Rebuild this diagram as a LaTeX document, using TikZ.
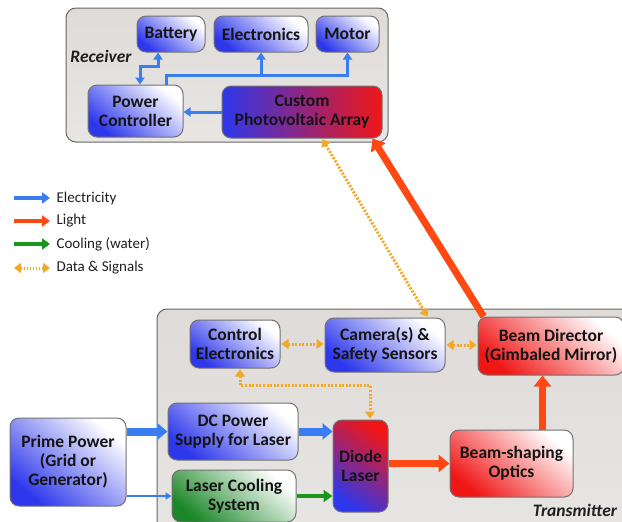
\documentclass[tikz,border=0pt]{standalone}
\usepackage{fontspec}
\setmainfont{Carlito}
\usetikzlibrary{arrows.meta}

\definecolor{elec}{RGB}{58,125,240}
\definecolor{lightc}{RGB}{255,72,18}
\definecolor{coolc}{RGB}{25,150,30}
\definecolor{datac}{RGB}{244,168,38}
\definecolor{nblue}{RGB}{45,55,235}
\definecolor{nred}{RGB}{240,22,22}
\definecolor{ngreen}{RGB}{28,135,40}
\definecolor{panel}{RGB}{222,219,216}

\tikzset{
  blk/.style={draw=black!55, line width=1pt, rounded corners=9pt, align=center,
    font=\fontsize{17.5}{19}\selectfont\bfseries, text=black!92, inner sep=0pt},
  bluebox/.style={blk, top color=white, bottom color=nblue, shading angle=-40},
  redbox/.style={blk, top color=white, bottom color=nred, shading angle=-40},
  greenbox/.style={blk, top color=white, bottom color=ngreen, shading angle=-40},
  panelbox/.style={draw=black!60, line width=1pt, rounded corners=10pt,
    top color=panel, bottom color=panel!70!white},
  tag/.style={font=\fontsize{17.5}{19}\selectfont\bfseries\itshape, text=black!88},
  legtext/.style={font=\fontsize{15}{17}\selectfont, anchor=west, text=black!88},
  esmall/.style={elec, line width=3pt, -{Triangle[width=9pt,length=7pt]}},
  esmallboth/.style={elec, line width=3pt, {Triangle[width=9pt,length=7pt]}-{Triangle[width=9pt,length=7pt]}},
  ebig/.style={elec, line width=8pt, -{Triangle[width=16pt,length=10pt]}},
  ethin/.style={elec, line width=2pt, -{Triangle[width=7pt,length=6pt]}},
  lbig/.style={lightc, line width=7pt, -{Triangle[width=17pt,length=11pt]}},
  cbig/.style={coolc, line width=4.5pt, -{Triangle[width=12pt,length=9pt]}},
  data/.style={datac, line width=3pt, dash pattern=on 2pt off 1.6pt,
    {Triangle[width=10pt,length=7pt]}-{Triangle[width=10pt,length=7pt]}, shorten <=1pt, shorten >=1pt},
}

\begin{document}
\begin{tikzpicture}[x=1pt,y=-1pt]
\useasboundingbox (0,0) rectangle (622,522);
\clip (0,0) rectangle (622,522);

% panels
\draw[panelbox] (66,8) rectangle (388,142);
\draw[panelbox] (157,309) rectangle (650,545);
\node[tag] (rx) at (101,56) {Receiver};
\node[tag] (tx) at (575,510) {Transmitter};

% receiver blocks
\node[bluebox, minimum width=68pt, minimum height=36pt] (bat) at (171,34) {Battery};
\node[bluebox, minimum width=94pt, minimum height=36pt] (ele) at (261,34) {Electronics};
\node[bluebox, minimum width=63pt, minimum height=36pt] (mot) at (347.5,34) {Motor};
\node[bluebox, minimum width=95pt, minimum height=52pt] (pc) at (135.5,111) {Power\\Controller};
\node[blk, left color=nblue, right color=nred, minimum width=160pt, minimum height=52pt] (pv) at (302,112) {Custom\\Photovoltaic Array};

% transmitter blocks
\node[bluebox, minimum width=90pt, minimum height=48pt] (ce) at (235,344) {Control\\Electronics};
\node[bluebox, minimum width=120pt, minimum height=54pt] (cam) at (385,345) {Camera(s) \&\\Safety Sensors};
\node[redbox, minimum width=146pt, minimum height=58pt] (bd) at (551,346) {Beam Director\\(Gimbaled Mirror)};
\node[bluebox, minimum width=130pt, minimum height=57pt] (dc) at (233,431.5) {DC Power\\Supply for Laser};
\node[greenbox, minimum width=124pt, minimum height=52pt] (cool) at (234,496) {Laser Cooling\\System};
\node[blk, top color=nred, bottom color=nblue, shading angle=-35, minimum width=55pt, minimum height=92pt] (dl) at (360.5,466) {Diode\\Laser};
\node[redbox, minimum width=123pt, minimum height=67pt] (bs) at (511.5,463.5) {Beam-shaping\\Optics};
\node[bluebox, minimum width=116pt, minimum height=88pt] (pp) at (68,462) {Prime Power\\(Grid or\\Generator)};

% receiver wiring
\draw[esmall] (pv.west) -- (pc.east |- pv.west);
\draw[esmallboth] ([xshift=-13pt]bat.south) -- ++(0,14) -| ([xshift=4.5pt]pc.north);
\coordinate (bus) at (166,75);
\draw[esmall] (pc.north -| bus) -- (bus) -| (mot.south);
\draw[esmall] (bus -| ele.south) -- (ele.south);

% transmitter power, cooling and light paths
\draw[ebig] (pp.east |- dc) -- (dc.west);
\draw[ethin] (pp.east |- cool) -- (cool.west);
\draw[ebig] (dc.east) -- (dl.west |- dc.east);
\draw[cbig] (cool.east) -- (dl.west |- cool.east);
\draw[lbig] (dl.east |- bs) -- (bs.west);
\draw[lbig] ([xshift=31pt]bs.north) -- ([xshift=31pt]bs.north |- bd.south);
\draw[lbig] ([xshift=6pt]bd.north west) -- ([xshift=-10pt]pv.south east);

% data and signal links
\draw[data] ([xshift=20pt]pv.south) -- ([xshift=43pt]cam.north);
\draw[data] (ce.east) -- (cam.west |- ce.east);
\draw[data] (cam.east) -- (bd.west |- cam.east);
\draw[data] ([xshift=5pt]ce.south) -- ++(0,17) -| ([xshift=9.5pt]dl.north);

% legend
\coordinate (l1) at (14,198);
\coordinate (l2) at (14,221);
\coordinate (l3) at (14,244);
\coordinate (l4) at (14,268);
\draw[elec, line width=4pt, -{Triangle[width=11pt,length=8pt]}] (l1) -- ++(36,0);
\draw[lightc, line width=4pt, -{Triangle[width=11pt,length=8pt]}] (l2) -- ++(36,0);
\draw[coolc, line width=4pt, -{Triangle[width=11pt,length=8pt]}] (l3) -- ++(36,0);
\draw[datac, line width=3pt, dash pattern=on 1.5pt off 1.5pt, {Triangle[width=10pt,length=7pt]}-{Triangle[width=10pt,length=7pt]}] (l4) -- ++(36,0);
\node[legtext] (t1) at (53,198) {Electricity};
\node[legtext] (t2) at (53,221) {Light};
\node[legtext] (t3) at (53,244) {Cooling (water)};
\node[legtext] (t4) at (53,268) {Data \& Signals};
\end{tikzpicture}
\end{document}
